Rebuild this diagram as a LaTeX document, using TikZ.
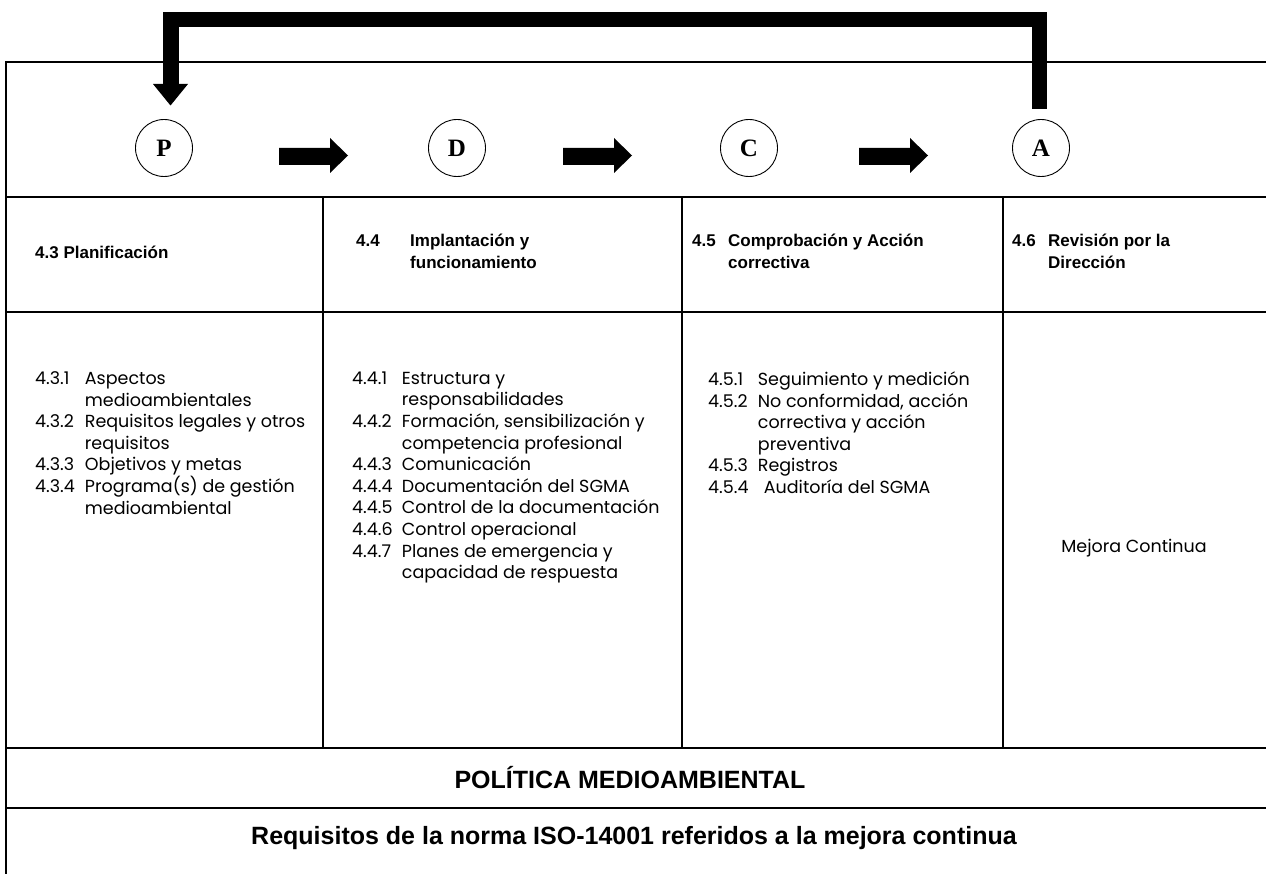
\documentclass[tikz,border=0pt]{standalone}
\usepackage{fontspec}
\setmainfont{Liberation Sans}
\newfontfamily\bodyfont[Numbers=Monospaced]{Poppins}
\newfontfamily\letterfont{Liberation Serif}
\newlength\numw
\newcommand\nm[1]{\settowidth\numw{4.4.4\ \ }\makebox[\numw][l]{#1}}
\newcommand\contline{\settowidth\numw{4.4.4\ \ }\hspace*{\numw}}
\begin{document}
\begin{tikzpicture}[x=1pt,y=-1pt,
  rule/.style={line width=2pt},
  letter/.style={circle, draw, line width=0.9pt, minimum size=57pt, inner sep=0pt,
    font=\letterfont\bfseries\fontsize{25}{25}\selectfont},
  headtext/.style={font=\bfseries\fontsize{17}{22}\selectfont, align=left, anchor=west, inner sep=0pt},
  bodytext/.style={font=\bodyfont\fontsize{17.5}{21.6}\selectfont, align=left, anchor=north west, inner sep=0pt},
  bandtext/.style={font=\bfseries\fontsize{25}{28}\selectfont, inner sep=0pt},
  feedback/.style={line width=15.5pt, line join=miter}]
\useasboundingbox (0,0) rectangle (1266,874);

% table
\draw[rule] (1266,62) -- (6,62) -- (6,874);
\foreach \y in {197,312,748,808} \draw[rule] (6,\y) -- (1266,\y);
\foreach \x in {323,682,1003} \draw[rule] (\x,197) -- (\x,748);

% PDCA circles
\node[letter] (P) at (164,148) {P};
\node[letter] (D) at (457,148) {D};
\node[letter] (C) at (749,148) {C};
\node[letter] (A) at (1041,148) {A};

% block arrows
\foreach \s in {279,563,859}
  \fill (\s,148) -- (\s+51,148) -- (\s+51,138) -- (\s+69,155.5) -- (\s+51,173) -- (\s+51,165) -- (\s,165) -- cycle;

% feedback arrow A -> P
\coordinate (fbA) at (1039.5,109);
\coordinate (fbP) at (171,84);
\draw[feedback] (fbA) -- (1039.5,19.5) -- (171,19.5) -- (fbP);
\fill (153,84) -- (188,84) -- (170.5,105.5) -- cycle;

% headers
\node[headtext] (h1) at (35,252) {4.3 Planificación};
\node[headtext] (h2) at (356,251) {\makebox[54pt][l]{4.4}Implantación y\\\hspace*{54pt}funcionamiento};
\node[headtext] (h3) at (692,251) {\makebox[36pt][l]{4.5}Comprobación y Acción\\\hspace*{36pt}correctiva};
\node[headtext] (h4) at (1012,251) {\makebox[36pt][l]{4.6}Revisión por la\\\hspace*{36pt}Dirección};

% bodies
\node[bodytext] (b1) at (35,371.5) {\nm{4.3.1}Aspectos\\
\contline medioambientales\\
\nm{4.3.2}Requisitos legales y otros\\
\contline requisitos\\
\nm{4.3.3}Objetivos y metas\\
\nm{4.3.4}Programa(s) de gestión\\
\contline medioambiental};
\node[bodytext] (b2) at (352,371.5) {\nm{4.4.1}Estructura y\\
\contline responsabilidades\\
\nm{4.4.2}Formación, sensibilización y\\
\contline competencia profesional\\
\nm{4.4.3}Comunicación\\
\nm{4.4.4}Documentación del SGMA\\
\nm{4.4.5}Control de la documentación\\
\nm{4.4.6}Control operacional\\
\nm{4.4.7}Planes de emergencia y\\
\contline capacidad de respuesta};
\node[bodytext] (b3) at (708,371.5) {\nm{4.5.1}Seguimiento y medición\\
\nm{4.5.2}No conformidad, acción\\
\contline correctiva y acción\\
\contline preventiva\\
\nm{4.5.3}Registros\\
\nm{4.5.4}\hspace*{6pt}Auditoría del SGMA};
\node[font=\bodyfont\fontsize{17.5}{21.6}\selectfont] (m) at (1134,548) {Mejora Continua};

% bands
\node[bandtext] (pol) at (630,778) {POLÍTICA MEDIOAMBIENTAL};
\node[bandtext] (req) at (634,838) {Requisitos de la norma ISO-14001 referidos a la mejora continua};
\end{tikzpicture}
\end{document}
